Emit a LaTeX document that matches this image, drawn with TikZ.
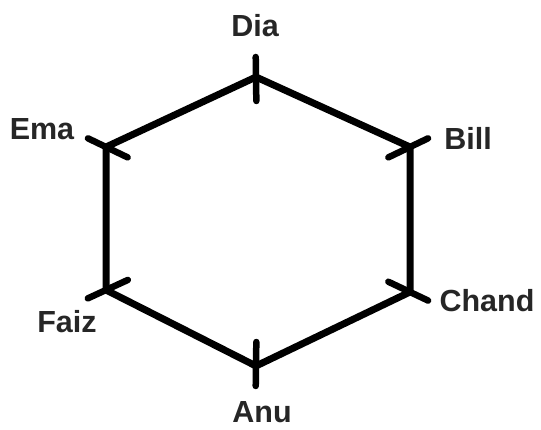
\documentclass[tikz,border=0pt]{standalone}
\usepackage{fontspec}
\setmainfont{Liberation Sans}
\usetikzlibrary{calc}
\tikzset{
  edgeline/.style={line width=7pt, line join=round, black},
  tickline/.style={line width=6.5pt, line cap=round, black},
  lbl/.style={font=\bfseries\fontsize{30.5}{33}\selectfont, text=black!85, inner sep=0pt}
}
\begin{document}
\begin{tikzpicture}[x=1pt,y=-1pt]
\useasboundingbox (0,0) rectangle (541,430);
\fill[white] (0,0) rectangle (541,430);
\coordinate (c) at (258,220);
\coordinate (dia) at (256,77);
\coordinate (bill) at (410,147);
\coordinate (chand) at (410,292);
\coordinate (anu) at (256,366);
\coordinate (faiz) at (106,290);
\coordinate (ema) at (106,147);
\draw[edgeline] (dia) -- (bill) -- (chand) -- (anu) -- (faiz) -- (ema) -- cycle;
\foreach \v in {dia,bill,chand,anu,faiz,ema}
  \draw[tickline] ($(\v)!-20pt!(c)$) -- ($(\v)!24pt!(c)$);
\node[lbl] (ldia) at (255,26) {Dia};
\node[lbl] (lbill) at (468,138) {Bill};
\node[lbl] (lchand) at (487,301) {Chand};
\node[lbl] (lanu) at (262,412) {Anu};
\node[lbl] (lfaiz) at (67,322) {Faiz};
\node[lbl] (lema) at (42,129) {Ema};
\end{tikzpicture}
\end{document}
